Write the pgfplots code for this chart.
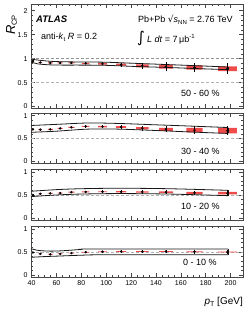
\documentclass[border=0pt]{standalone}
\usepackage{pgfplots}
\pgfplotsset{compat=1.18}
\usepackage{pgfplotstable}
\usepackage{fontspec}
\setmainfont{Liberation Sans}
\newfontfamily\dejavu{DejaVu Sans}
\definecolor{sysred}{RGB}{240,75,75}
\definecolor{framec}{RGB}{70,70,70}

% points: x, value, statistical error
\pgfplotstableread{
x y ey
41 0.95 0.015
47 0.92 0.012
55 0.91 0.012
63 0.91 0.012
72 0.91 0.015
83.5 0.90 0.020
97 0.89 0.030
112 0.875 0.040
129 0.85 0.065
148 0.83 0.090
171 0.815 0.100
197.5 0.79 0.110
}\pone
\pgfplotstableread{
x y ey
41 0.70 0.010
47 0.695 0.010
55 0.70 0.012
63 0.72 0.015
72 0.745 0.020
83.5 0.765 0.030
97 0.76 0.035
112 0.75 0.045
129 0.725 0.055
148 0.70 0.065
171 0.685 0.090
197.5 0.67 0.100
}\ptwo
\pgfplotstableread{
x y ey
41 0.50 0.012
47 0.525 0.012
55 0.535 0.012
63 0.54 0.015
72 0.56 0.020
83.5 0.565 0.025
97 0.57 0.030
112 0.57 0.035
129 0.565 0.040
148 0.56 0.045
171 0.545 0.050
197.5 0.54 0.060
}\pthree
\pgfplotstableread{
x y ey
41 0.49 0.012
47 0.46 0.012
55 0.45 0.012
63 0.46 0.015
72 0.475 0.018
83.5 0.495 0.020
97 0.505 0.025
112 0.51 0.030
129 0.51 0.035
148 0.51 0.040
171 0.505 0.045
197.5 0.50 0.050
}\pfour

\pgfplotsset{
  rcp/.style={
    scale only axis, width=212pt,
    xmin=39.5, xmax=210,
    xtick={40,60,...,200}, minor x tick num=3,
    axis line style={framec, line width=0.8pt},
    every tick/.style={framec, line width=0.5pt},
    major tick length=4pt, minor tick length=2pt,
    tick align=inside,
    tick label style={font=\fontsize{7}{8}\selectfont},
    /pgf/number format/assume math mode=true,
    minor y tick num=4,
    unbounded coords=jump,
  },
  sysbox/.style={fill=sysred, draw=none, mark=none, sharp plot},
  statpts/.style={
    black, only marks, mark=*, mark size=1pt,
    error bars/.cd, y dir=both, y explicit, error mark=none,
    error bar style={black, line width=0.65pt},
  },
  band/.style={black!90, line width=0.8pt, smooth, mark=none},
  ref1/.style={gray!85, densely dashed, line width=0.55pt, mark=none},
  ref05/.style={gray!60, densely dashed, line width=0.5pt, mark=none},
}

\begin{document}
\begin{tikzpicture}
% ---------- panel 1: 50-60 %
\begin{axis}[rcp, at={(31pt,-4pt)}, anchor=north west, height=104pt,
  ymin=-0.03, ymax=2.14, ytick={0,0.5,1,1.5,2}, xticklabels={}]
\addplot[ref1] coordinates {(39.5,1) (210,1)};
\addplot[ref05] coordinates {(39.5,0.5) (210,0.5)};
\addplot[sysbox] coordinates {
(40,0.94) (42,0.94) (42,0.96) (40,0.96) (nan,nan)
(45.5,0.91) (48.5,0.91) (48.5,0.93) (45.5,0.93) (nan,nan)
(53,0.90) (57,0.90) (57,0.92) (53,0.92) (nan,nan)
(61,0.90) (65,0.90) (65,0.92) (61,0.92) (nan,nan)
(69.5,0.90) (74.5,0.90) (74.5,0.92) (69.5,0.92) (nan,nan)
(80.5,0.888) (86.5,0.888) (86.5,0.912) (80.5,0.912) (nan,nan)
(93.5,0.875) (100.5,0.875) (100.5,0.905) (93.5,0.905) (nan,nan)
(108,0.855) (116,0.855) (116,0.895) (108,0.895) (nan,nan)
(124,0.82) (134,0.82) (134,0.88) (124,0.88) (nan,nan)
(142.5,0.792) (153.5,0.792) (153.5,0.868) (142.5,0.868) (nan,nan)
(164.5,0.773) (177.5,0.773) (177.5,0.857) (164.5,0.857) (nan,nan)
(190,0.74) (205,0.74) (205,0.84) (190,0.84)
};
\addplot[band] coordinates {(39.5,0.99) (45,0.97) (55,0.945) (65,0.935) (80,0.93) (100,0.925) (125,0.90) (150,0.875) (175,0.85) (198,0.825)};
\addplot[band] coordinates {(39.5,0.93) (45,0.89) (55,0.87) (65,0.865) (80,0.865) (100,0.86) (125,0.835) (150,0.815) (175,0.79) (198,0.77)};
\addplot[band, sharp plot] coordinates {(198,0.825) (198,0.77)};
\addplot[statpts] table[x=x,y=y,y error=ey] {\pone};
\end{axis}
% ---------- panel 2: 30-40 %
\begin{axis}[rcp, at={(31pt,-113pt)}, anchor=north west, height=50pt,
  ymin=-0.04, ymax=1.06, ytick={0,0.5,1}, xticklabels={}]
\addplot[ref05] coordinates {(39.5,0.5) (210,0.5)};
\addplot[sysbox] coordinates {
(40,0.69) (42,0.69) (42,0.71) (40,0.71) (nan,nan)
(45.5,0.685) (48.5,0.685) (48.5,0.705) (45.5,0.705) (nan,nan)
(53,0.69) (57,0.69) (57,0.71) (53,0.71) (nan,nan)
(61,0.71) (65,0.71) (65,0.73) (61,0.73) (nan,nan)
(69.5,0.735) (74.5,0.735) (74.5,0.755) (69.5,0.755) (nan,nan)
(80.5,0.753) (86.5,0.753) (86.5,0.777) (80.5,0.777) (nan,nan)
(93.5,0.745) (100.5,0.745) (100.5,0.775) (93.5,0.775) (nan,nan)
(108,0.73) (116,0.73) (116,0.77) (108,0.77) (nan,nan)
(124,0.70) (134,0.70) (134,0.75) (124,0.75) (nan,nan)
(142.5,0.665) (153.5,0.665) (153.5,0.735) (142.5,0.735) (nan,nan)
(164.5,0.635) (177.5,0.635) (177.5,0.735) (164.5,0.735) (nan,nan)
(190,0.61) (205,0.61) (205,0.73) (190,0.73)
};
\addplot[band] coordinates {(39.5,0.785) (60,0.81) (85,0.84) (110,0.83) (140,0.80) (170,0.77) (198,0.74)};
\addplot[band] coordinates {(39.5,0.635) (60,0.66) (85,0.705) (110,0.705) (140,0.675) (170,0.64) (198,0.61)};
\addplot[band, sharp plot] coordinates {(198,0.74) (198,0.61)};
\addplot[statpts] table[x=x,y=y,y error=ey] {\ptwo};
\end{axis}
% ---------- panel 3: 10-20 %
\begin{axis}[rcp, at={(31pt,-169pt)}, anchor=north west, height=51pt,
  ymin=-0.04, ymax=1.06, ytick={0,0.5,1}, xticklabels={}]
\addplot[ref05] coordinates {(39.5,0.5) (210,0.5)};
\addplot[sysbox] coordinates {
(40,0.492) (42,0.492) (42,0.508) (40,0.508) (nan,nan)
(45.5,0.517) (48.5,0.517) (48.5,0.533) (45.5,0.533) (nan,nan)
(53,0.527) (57,0.527) (57,0.543) (53,0.543) (nan,nan)
(61,0.532) (65,0.532) (65,0.548) (61,0.548) (nan,nan)
(69.5,0.55) (74.5,0.55) (74.5,0.57) (69.5,0.57) (nan,nan)
(80.5,0.555) (86.5,0.555) (86.5,0.575) (80.5,0.575) (nan,nan)
(93.5,0.56) (100.5,0.56) (100.5,0.58) (93.5,0.58) (nan,nan)
(108,0.558) (116,0.558) (116,0.582) (108,0.582) (nan,nan)
(124,0.553) (134,0.553) (134,0.577) (124,0.577) (nan,nan)
(142.5,0.545) (153.5,0.545) (153.5,0.575) (142.5,0.575) (nan,nan)
(164.5,0.525) (177.5,0.525) (177.5,0.565) (164.5,0.565) (nan,nan)
(190,0.515) (205,0.515) (205,0.565) (190,0.565)
};
\addplot[band] coordinates {(39.5,0.58) (60,0.615) (80,0.635) (110,0.645) (150,0.635) (198,0.60)};
\addplot[band] coordinates {(39.5,0.465) (60,0.50) (80,0.52) (110,0.53) (150,0.52) (198,0.485)};
\addplot[band, sharp plot] coordinates {(198,0.60) (198,0.485)};
\addplot[statpts] table[x=x,y=y,y error=ey] {\pthree};
\end{axis}
% ---------- panel 4: 0-10 %
\begin{axis}[rcp, at={(31pt,-226pt)}, anchor=north west, height=51pt,
  ymin=-0.04, ymax=1.06, ytick={0,0.5,1}]
\addplot[ref05] coordinates {(39.5,0.5) (210,0.5)};
\addplot[sysbox] coordinates {
(40,0.482) (42,0.482) (42,0.498) (40,0.498) (nan,nan)
(45.5,0.452) (48.5,0.452) (48.5,0.468) (45.5,0.468) (nan,nan)
(53,0.442) (57,0.442) (57,0.458) (53,0.458) (nan,nan)
(61,0.452) (65,0.452) (65,0.468) (61,0.468) (nan,nan)
(69.5,0.467) (74.5,0.467) (74.5,0.483) (69.5,0.483) (nan,nan)
(80.5,0.487) (86.5,0.487) (86.5,0.503) (80.5,0.503) (nan,nan)
(93.5,0.497) (100.5,0.497) (100.5,0.513) (93.5,0.513) (nan,nan)
(108,0.502) (116,0.502) (116,0.518) (108,0.518) (nan,nan)
(124,0.502) (134,0.502) (134,0.518) (124,0.518) (nan,nan)
(142.5,0.502) (153.5,0.502) (153.5,0.518) (142.5,0.518) (nan,nan)
(164.5,0.497) (177.5,0.497) (177.5,0.513) (164.5,0.513) (nan,nan)
(190,0.49) (205,0.49) (205,0.51) (190,0.51)
};
\addplot[band] coordinates {(39.5,0.57) (45,0.535) (52,0.52) (60,0.52) (70,0.535) (80,0.555) (90,0.565) (198,0.565)};
\addplot[band] coordinates {(39.5,0.385) (50,0.40) (60,0.41) (80,0.43) (100,0.44) (198,0.44)};
\addplot[band, sharp plot] coordinates {(198,0.565) (198,0.44)};
\addplot[statpts] table[x=x,y=y,y error=ey] {\pfour};
\end{axis}

% ---------- texts
\node[rotate=90, inner sep=0pt] at (11.5pt,-25pt) {{\fontsize{13}{14}\selectfont\itshape R}{\fontsize{7.5}{8}\selectfont\raisebox{-0.45ex}{CP}}};
\node[anchor=east, inner sep=0pt] at (243pt,-302pt) {\fontsize{10}{11}\selectfont\textit{p}\raisebox{-0.5ex}{\fontsize{7}{8}\selectfont T} [GeV]};
\node[anchor=west, inner sep=0pt] at (36pt,-19.5pt) {\fontsize{9.5}{10}\selectfont\bfseries\itshape ATLAS};
\node[anchor=west, inner sep=0pt] at (41pt,-37pt) {\fontsize{9}{10}\selectfont anti-\textit{k}\raisebox{-0.4ex}{\fontsize{6}{7}\selectfont t} \textit{R} = 0.2};
\node[anchor=west, inner sep=0pt] at (138pt,-20pt) {\fontsize{9}{10}\selectfont Pb+Pb {\dejavu √}\textit{s}\raisebox{-0.4ex}{\fontsize{6}{7}\selectfont NN} = 2.76 TeV};
\node[anchor=west, inner sep=0pt] at (137pt,-38pt) {{\dejavu\fontsize{15}{15}\selectfont ∫}\hspace{2pt}\fontsize{9}{10}\selectfont \textit{L dt} = 7\,μb\textsuperscript{-1}};
\node[anchor=west, inner sep=0pt] at (181pt,-93pt) {\fontsize{9}{10}\selectfont 50 - 60 \%};
\node[anchor=west, inner sep=0pt] at (181pt,-151pt) {\fontsize{9}{10}\selectfont 30 - 40 \%};
\node[anchor=west, inner sep=0pt] at (181pt,-206pt) {\fontsize{9}{10}\selectfont 10 - 20 \%};
\node[anchor=west, inner sep=0pt] at (183pt,-262pt) {\fontsize{9}{10}\selectfont 0 - 10 \%};

\pgfresetboundingbox
\path[use as bounding box] (0pt,0pt) rectangle (251pt,-315pt);
\end{tikzpicture}
\end{document}
